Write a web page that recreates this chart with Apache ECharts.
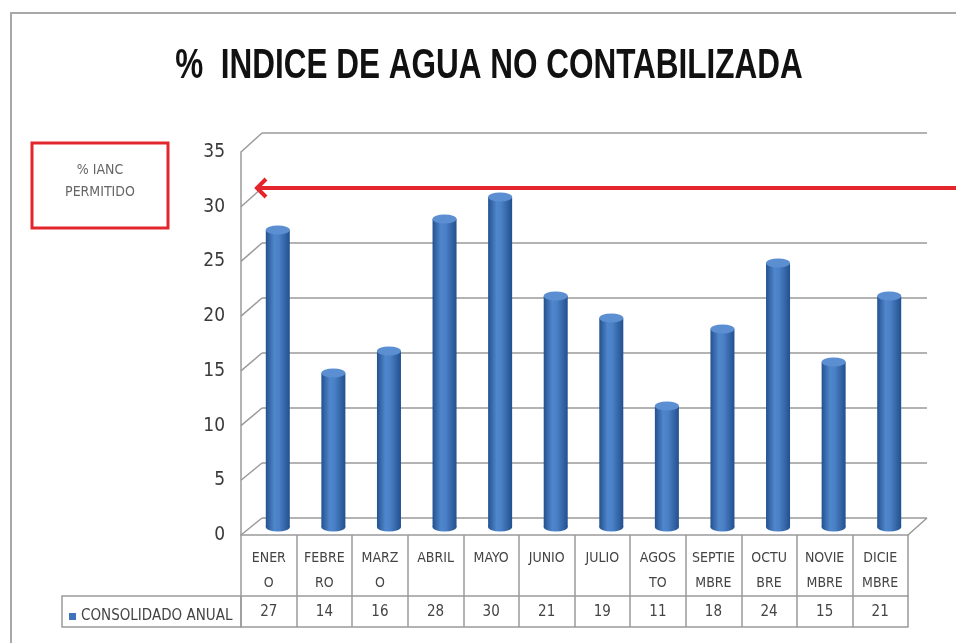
<!DOCTYPE html>
<html><head><meta charset="utf-8">
<script src="https://cdn.jsdelivr.net/npm/echarts@6/dist/echarts.min.js"></script>
<style>html,body{margin:0;padding:0;background:#fff}#c{width:956px;height:643px}</style>
</head><body><div id="c"></div>
<script>
// ---- data ----
const categories = ['ENER\nO','FEBRE\nRO','MARZ\nO','ABRIL','MAYO','JUNIO','JULIO','AGOS\nTO','SEPTIE\nMBRE','OCTU\nBRE','NOVIE\nMBRE','DICIE\nMBRE'];
const values = [27,14,16,28,30,21,19,11,18,24,15,21];
const seriesName = 'CONSOLIDADO ANUAL';
const yMin = 0, yMax = 35, yInterval = 5;
const limitValue = 30;
const limitLabel = '% IANC\nPERMITIDO';
const titleText = '%  INDICE DE AGUA NO CONTABILIZADA';

// ---- style ----
const NARROW = "'Liberation Sans Narrow','DejaVu Sans Condensed','Liberation Sans',sans-serif";
const GRAY = '#9a9a9a';
const barGrad = new echarts.graphic.LinearGradient(0,0,1,0,[
  {offset:0,color:'#24518f'},{offset:0.35,color:'#4f86cc'},{offset:0.55,color:'#4a80c6'},{offset:1,color:'#22508e'}]);
const capColor = '#5b8fd2';

const option = {
  animation:false,
  backgroundColor:'#fff',
  grid:[
    {left:262, top:133, width:665, height:385},
    {left:250, top:142, width:667, height:385},
    {left:241, top:152, width:667, height:383}
  ],
  xAxis:[
    {gridIndex:0, type:'category', data:categories, show:false},
    {gridIndex:1, type:'category', data:categories, show:false},
    {gridIndex:2, type:'category', data:categories, position:'bottom',
      axisLine:{lineStyle:{color:GRAY,width:1.5}},
      axisTick:{show:true,length:92,interval:0,lineStyle:{color:GRAY,width:1.5}},
      axisLabel:{interval:0,fontFamily:NARROW,fontSize:14,lineHeight:25,margin:11,color:'#444'}},
    {gridIndex:2, type:'category', data:categories, position:'bottom', offset:61,
      axisLine:{lineStyle:{color:GRAY,width:1.5}}, axisTick:{show:false},
      axisLabel:{interval:0,fontFamily:NARROW,fontSize:15,margin:9,color:'#444',
        formatter:(v,i)=>String(values[i])}},
    {gridIndex:2, type:'category', data:categories, position:'bottom', offset:92,
      axisLine:{lineStyle:{color:GRAY,width:1.5}}, axisTick:{show:false}, axisLabel:{show:false}}
  ],
  yAxis:[
    {gridIndex:0, type:'value', min:yMin, max:yMax, interval:yInterval,
      axisLabel:{show:false}, axisLine:{show:false}, axisTick:{show:false},
      splitLine:{show:true,lineStyle:{color:GRAY,width:1.5}}},
    {gridIndex:1, type:'value', min:yMin, max:yMax, interval:yInterval, show:false},
    {gridIndex:2, type:'value', min:yMin, max:yMax, interval:yInterval,
      axisLine:{show:true,lineStyle:{color:GRAY,width:1.5}}, axisTick:{show:false}, splitLine:{show:false},
      axisLabel:{fontFamily:NARROW,fontSize:19,color:'#3a3a3a',margin:16}}
  ],
  legend:{left:64, top:604, itemWidth:7, itemHeight:7, icon:'rect', selectedMode:false,
    data:[{name:seriesName, itemStyle:{color:'#3f73bb'}}],
    textStyle:{fontFamily:NARROW,fontSize:15,color:'#444'}, itemGap:2},
  series:[
    {type:'bar', name:seriesName, xAxisIndex:1, yAxisIndex:1, data:values, barWidth:24, z:3,
      itemStyle:{color:barGrad}},
    {type:'pictorialBar', name:seriesName, xAxisIndex:1, yAxisIndex:1, data:values, z:4,
      symbol:'circle', symbolSize:[24,9], symbolPosition:'end', symbolOffset:[0,'-50%'],
      itemStyle:{color:capColor}},
    {type:'pictorialBar', name:seriesName, xAxisIndex:1, yAxisIndex:1, data:values, z:2,
      symbol:'circle', symbolSize:[24,9], symbolPosition:'start', symbolOffset:[0,'50%'],
      itemStyle:{color:barGrad}}
  ]
};

const chart = echarts.init(document.getElementById('c'));
chart.setOption(option);

// ---- decorations derived from the axes ----
const n = categories.length;
const py = (ai,v)=>chart.convertToPixel({yAxisIndex:ai}, v);
const px = (ai,i)=>chart.convertToPixel({xAxisIndex:ai}, i);
const fStep = px(2,1)-px(2,0), fLeft = px(2,0)-fStep/2, fRight = px(2,n-1)+fStep/2;
const bStep = px(0,1)-px(0,0), bLeft = px(0,0)-bStep/2, bRight = px(0,n-1)+bStep/2;

const g = [];
g.push({type:'rect', shape:{x:11,y:13,width:1000,height:700}, style:{fill:null,stroke:'#a8a8a8',lineWidth:2}, z:0});
g.push({type:'text', x:489, y:66, scaleX:0.75,
  style:{text:titleText, font:"bold 42px 'Liberation Sans',sans-serif", fill:'#111', textAlign:'center', textVerticalAlign:'middle'}});
g.push({type:'rect', shape:{x:32,y:143,width:136,height:85}, style:{fill:'#fff',stroke:'#e3262b',lineWidth:3}});
g.push({type:'text', x:100, y:181, style:{text:limitLabel, font:"14px "+NARROW, fill:'#666', textAlign:'center', textVerticalAlign:'middle', lineHeight:22}});
for (let v=yMin; v<=yMax; v+=yInterval){
  g.push({type:'line', shape:{x1:fLeft,y1:py(2,v),x2:bLeft,y2:py(0,v)}, style:{stroke:GRAY,lineWidth:1.5}});
}
g.push({type:'line', shape:{x1:fRight,y1:py(2,0),x2:bRight,y2:py(0,0)}, style:{stroke:GRAY,lineWidth:1.5}});
const ay = py(0,limitValue);
g.push({type:'line', shape:{x1:bLeft-5,y1:ay,x2:960,y2:ay}, style:{stroke:'#e3262b',lineWidth:4}, z:10});
g.push({type:'polyline', shape:{points:[[bLeft+4,ay-9],[bLeft-5,ay],[bLeft+4,ay+9]]}, style:{stroke:'#e3262b',lineWidth:4,fill:null}, z:10});
const r1 = py(2,0)+61, r2 = py(2,0)+92;
g.push({type:'rect', shape:{x:62,y:r1,width:fLeft-62,height:r2-r1}, style:{fill:null,stroke:GRAY,lineWidth:1.5}});
chart.setOption({graphic:g});
</script></body></html>
